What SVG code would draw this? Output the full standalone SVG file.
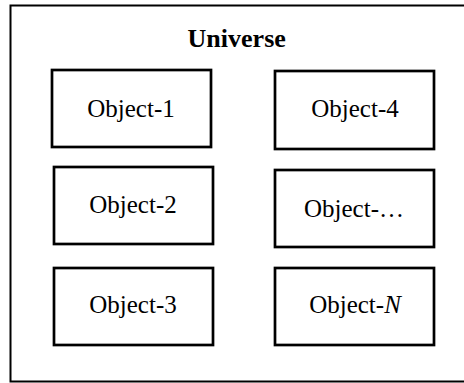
<svg xmlns="http://www.w3.org/2000/svg" width="464" height="383" viewBox="0 0 464 383">
<style>
.box{fill:#fff;stroke:#000;stroke-width:2.7}
.lbl{font-family:"Liberation Serif","Times New Roman",serif;font-size:25px;fill:#000;text-anchor:middle}
.title{font-family:"Liberation Serif","Times New Roman",serif;font-size:26px;font-weight:bold;fill:#000;text-anchor:middle}
</style>
<rect width="464" height="383" fill="#fff"/>
<g id="universe">
<rect x="10.5" y="5.5" width="470" height="376" fill="none" stroke="#000" stroke-width="2"/>
<text class="title" x="236.7" y="46.7">Universe</text>
</g>
<g id="object-1"><rect class="box" x="52" y="70" width="159" height="77"/><text class="lbl" x="131" y="116.7">Object-1</text></g>
<g id="object-2"><rect class="box" x="54" y="167" width="159" height="77"/><text class="lbl" x="133" y="213.3">Object-2</text></g>
<g id="object-3"><rect class="box" x="54" y="268" width="159" height="77"/><text class="lbl" x="133" y="313.3">Object-3</text></g>
<g id="object-4"><rect class="box" x="275" y="71" width="159" height="78"/><text class="lbl" x="355" y="117">Object-4</text></g>
<g id="object-dots"><rect class="box" x="275" y="170" width="159" height="77"/><text class="lbl" x="354" y="216.5">Object-…</text></g>
<g id="object-n"><rect class="box" x="275" y="268" width="159" height="77"/><text class="lbl" x="355" y="313">Object-<tspan font-style="italic">N</tspan></text></g>
<g id="connectors"></g>
</svg>
